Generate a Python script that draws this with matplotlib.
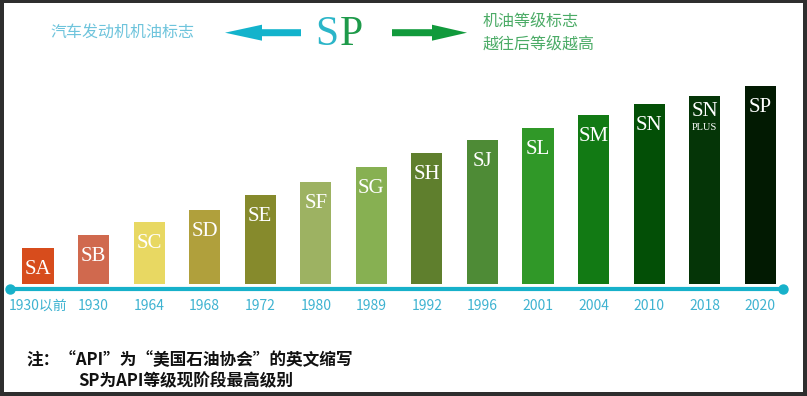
import matplotlib
matplotlib.use('Agg')
import matplotlib.pyplot as plt
from matplotlib.patches import FancyArrow, Rectangle

# ---- data ----
grades = ['SA', 'SB', 'SC', 'SD', 'SE', 'SF', 'SG', 'SH', 'SJ', 'SL', 'SM', 'SN', 'SN', 'SP']
grade_subs = ['', '', '', '', '', '', '', '', '', '', '', '', 'PLUS', '']
years = ['1930以前', '1930', '1964', '1968', '1972', '1980', '1989', '1992',
         '1996', '2001', '2004', '2010', '2018', '2020']
levels = [36, 49, 62, 74, 89, 102, 117, 131, 144, 156, 169, 180, 188, 198]
bar_colors = ['#d74c1c', '#d0694e', '#e8d862', '#b0a03c', '#868a2c', '#9db262',
              '#87b052', '#5f7f2d', '#4e8b36', '#309828', '#127a14', '#034f06',
              '#053507', '#021a02']

title_left = '汽车发动机机油标志'
title_right = ['机油等级标志', '越往后等级越高']
notes = ['注：“API”为“美国石油协会”的英文缩写', 'SP为API等级现阶段最高级别']

CJK = ['Noto Sans CJK SC', 'DejaVu Sans']
SERIF = ['Liberation Serif', 'DejaVu Serif']

W, H = 807, 396
fig = plt.figure(figsize=(W / 100, H / 100), dpi=100)
fig.patch.set_facecolor('#2e2e2e')
fig.add_artist(Rectangle((4 / W, 4 / H), (803 - 4) / W, (392 - 3) / H,
                         transform=fig.transFigure, facecolor='white',
                         edgecolor='none', zorder=-5))


def fx(px):
    return px / W


def fy(py):
    return 1 - py / H


# ---- main axes ----
ax = fig.add_axes([fx(10), fy(292), (783 - 10) / W, (292 - 84) / H])
ax.set_facecolor('none')
x = list(range(len(grades)))
ax.bar(x, levels, width=0.56, color=bar_colors, zorder=2)
ax.set_xlim(-0.504, 13.41)
ax.set_ylim(-8, 200)

line_c = '#17b1ca'
ax.axhline(-4.5, color=line_c, lw=3.0, zorder=3, clip_on=False)
ax.plot([0, 1], [-4.5, -4.5], ls='none', marker='o', ms=6.5, color=line_c,
        transform=ax.get_yaxis_transform(), clip_on=False, zorder=4)

for xi, g, s, v in zip(x, grades, grade_subs, levels):
    if s:
        ax.annotate(g, (xi, v), xytext=(0, -11.5), textcoords='offset points',
                    ha='center', va='center', color='white', fontsize=15,
                    family=SERIF, zorder=5)
        ax.annotate(s, (xi, v), xytext=(0, -22.5), textcoords='offset points',
                    ha='center', va='center', color='white', fontsize=7.5,
                    family=SERIF, zorder=5)
    else:
        ax.annotate(g, (xi, v), xytext=(0, -15.5), textcoords='offset points',
                    ha='center', va='center', color='white', fontsize=15,
                    family=SERIF, zorder=5)

ax.set_xticks(x)
ax.set_xticklabels(years, family=CJK)
ax.tick_params(axis='x', length=0, pad=5, labelsize=10, labelcolor='#3fb3d1')
ax.set_yticks([])
for sp in ax.spines.values():
    sp.set_visible(False)

# ---- header ----
fig.text(fx(50), fy(32), title_left, ha='left', va='center', fontsize=11.5,
         color='#6ec4dc', family=CJK)
fig.text(fx(338.5), fy(45), 'S', ha='right', va='baseline', fontsize=30,
         color='#2bb5c8', family=SERIF)
fig.text(fx(339.5), fy(45), 'P', ha='left', va='baseline', fontsize=30,
         color='#1e9a4a', family=SERIF)
fig.text(fx(483), fy(21), title_right[0], ha='left', va='center', fontsize=11.5,
         color='#4bab66', family=CJK)
fig.text(fx(483), fy(44), title_right[1], ha='left', va='center', fontsize=11.5,
         color='#4bab66', family=CJK)

ay = (H - 32.7) / 100
fig.add_artist(FancyArrow(3.01, ay, -0.76, 0, width=0.07, head_width=0.16,
                          head_length=0.37, length_includes_head=True,
                          transform=fig.dpi_scale_trans, color='#13b3cc', lw=0))
fig.add_artist(FancyArrow(3.92, ay, 0.75, 0, width=0.07, head_width=0.16,
                          head_length=0.35, length_includes_head=True,
                          transform=fig.dpi_scale_trans, color='#119a3c', lw=0))

# ---- notes ----
fig.text(fx(26), fy(360), notes[0], ha='left', va='center', fontsize=12,
         fontweight='bold', color='#111111', family=CJK)
fig.text(fx(78), fy(381), notes[1], ha='left', va='center', fontsize=12,
         fontweight='bold', color='#111111', family=CJK)

fig.savefig('out.png', dpi=100, facecolor=fig.get_facecolor())
